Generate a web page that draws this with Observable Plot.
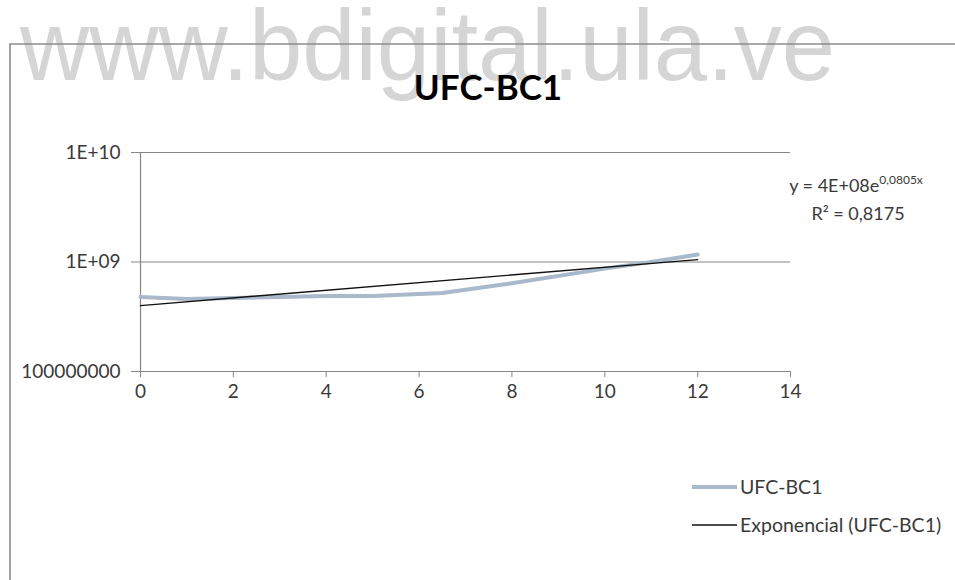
<!DOCTYPE html>
<html>
<head>
<meta charset="utf-8">
<script src="https://cdn.jsdelivr.net/npm/d3@7"></script>
<script src="https://cdn.jsdelivr.net/npm/@observablehq/plot@0.6"></script>
<style>
  html, body { margin: 0; padding: 0; background: #fff; }
  #chart { position: relative; width: 955px; height: 580px; overflow: hidden; }
  svg { font-family: Lato, "Open Sans", sans-serif; }
</style>
</head>
<body>
<div id="chart"></div>
<script>
// Colony counts (UFC) over time for BC1, log scale
const days = [0, 1, 2, 3, 4, 5, 6.5, 8, 10, 11, 12];
const ufcBC1 = [4.8e8, 4.6e8, 4.7e8, 4.8e8, 4.9e8, 4.9e8, 5.2e8, 6.4e8, 8.7e8, 1.0e9, 1.17e9];

// Exponential trend line y = a·e^(b·x)
const trendA = 4e8;
const trendB = 0.0805;
const trendR2 = 0.8175;

const yTicks = [1e8, 1e9, 1e10];
const yTickLabels = ["100000000", "1E+09", "1E+10"];
const xTicks = [0, 2, 4, 6, 8, 10, 12, 14];

const seriesName = "UFC-BC1";
const trendName = "Exponencial (UFC-BC1)";
const watermark = "www.bdigital.ula.ve";

const data = days.map((d, i) => ({day: d, ufc: ufcBC1[i]}));
const trendX = [days[0], days[days.length - 1]];
const trend = trendX.map(x => ({day: x, ufc: trendA * Math.exp(trendB * x)}));

const axisColor = "#868686";
const textColor = "#3a3a3a";
const seriesColor = "#a7b9cb";

const chart = Plot.plot({
  width: 955,
  height: 580,
  marginLeft: 140,
  marginRight: 165,
  marginTop: 152,
  marginBottom: 209,
  style: {fontFamily: "Lato, 'Open Sans', sans-serif", fontSize: "19px", color: textColor, background: "white", overflow: "visible"},
  x: {domain: [0, 14], ticks: xTicks},
  y: {type: "log", domain: [1e8, 1e10], ticks: yTicks},
  marks: [
    Plot.ruleY([1e9, 1e10], {x1: 0, x2: 14, stroke: axisColor, strokeWidth: 1.2}),
    Plot.ruleY([1e8], {x1: 0, x2: 14, stroke: axisColor, strokeWidth: 1.2}),
    Plot.ruleX([0], {y1: 1e8, y2: 1e10, stroke: axisColor, strokeWidth: 1.2}),
    Plot.axisX({ticks: xTicks, tickSize: 6, tickPadding: 7, stroke: axisColor, fill: textColor, fontSize: 19, label: null}),
    Plot.axisY({ticks: yTicks, tickSize: 9, tickPadding: 11, stroke: axisColor, fill: textColor, fontSize: 19, label: null,
      tickFormat: v => yTickLabels[yTicks.indexOf(v)]}),
    Plot.line(data, {x: "day", y: "ufc", stroke: seriesColor, strokeWidth: 4, strokeLinejoin: "round"}),
    Plot.line(trend, {x: "day", y: "ufc", stroke: "#111", strokeWidth: 1.4})
  ]
});

document.getElementById("chart").appendChild(chart);

const svg = d3.select(chart);

// Chart area border (top and left edges)
svg.append("path")
  .attr("d", "M10,580 V44 H955")
  .attr("fill", "none").attr("stroke", "#8c8c8c").attr("stroke-width", 1.6);

// Watermark behind the title
svg.insert("text", ":first-child")
  .attr("x", 20).attr("y", 80)
  .attr("text-anchor", "start")
  .attr("font-family", "'Liberation Sans', Arial, sans-serif")
  .attr("font-size", 101)
  .attr("textLength", 815).attr("lengthAdjust", "spacingAndGlyphs")
  .attr("fill", "#d5d5d5")
  .text(watermark);
svg.insert("rect", ":first-child").attr("width", 955).attr("height", 580).attr("fill", "white");

// Title
svg.append("text")
  .attr("x", 488).attr("y", 100)
  .attr("text-anchor", "middle")
  .attr("font-family", "Lato, sans-serif").attr("font-weight", "bold")
  .attr("font-size", 35).attr("fill", "#000")
  .text(seriesName);

// Trend equation
const fmtA = v => {
  const e = Math.floor(Math.log10(v));
  const m = Math.round(v / 10 ** e);
  return `${m}E+${String(e).padStart(2, "0")}`;
};
const fmtDec = v => String(v).replace(".", ",");
const eq = svg.append("text")
  .attr("x", 856).attr("y", 192)
  .attr("text-anchor", "middle")
  .attr("font-size", 18).attr("fill", textColor);
eq.append("tspan").text(`y = ${fmtA(trendA)}e`);
eq.append("tspan").attr("dy", -8).attr("font-size", 12).text(`${fmtDec(trendB)}x`);
svg.append("text")
  .attr("x", 858).attr("y", 220)
  .attr("text-anchor", "middle")
  .attr("font-size", 18).attr("fill", textColor)
  .text(`R² = ${fmtDec(trendR2)}`);

// Legend
const legend = svg.append("g").attr("font-size", 19.5).attr("fill", textColor).attr("text-anchor", "start");
legend.append("line").attr("x1", 692).attr("x2", 737).attr("y1", 487).attr("y2", 487)
  .attr("stroke", seriesColor).attr("stroke-width", 4);
legend.append("text").attr("x", 740).attr("y", 487).attr("dy", "0.36em").text(seriesName);
legend.append("line").attr("x1", 692).attr("x2", 737).attr("y1", 525).attr("y2", 525)
  .attr("stroke", "#111").attr("stroke-width", 1.4);
legend.append("text").attr("x", 740).attr("y", 525).attr("dy", "0.36em").text(trendName);
</script>
</body>
</html>
